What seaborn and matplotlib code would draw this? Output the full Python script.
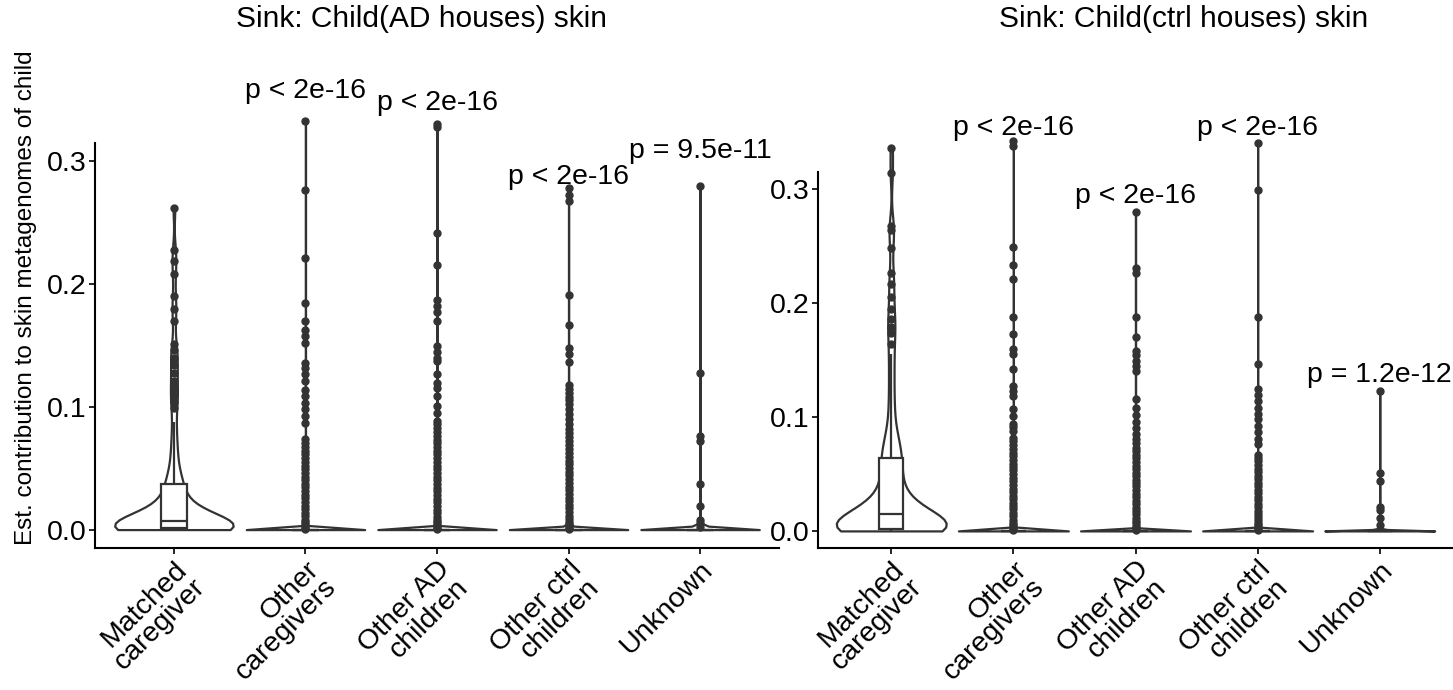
import numpy as np
import pandas as pd
import seaborn as sns
import matplotlib.pyplot as plt

sns.set_style("ticks")
plt.rcParams['font.family'] = ['Liberation Sans', 'DejaVu Sans']
plt.rcParams['text.color'] = 'black'

# --------- data ---------
categories = ["Matched\ncaregiver", "Other\ncaregivers", "Other AD\nchildren",
              "Other ctrl\nchildren", "Unknown"]

# Sink: child in AD houses
ad_matched_vals = [0.0, 0.001, 0.002, 0.003, 0.004, 0.005, 0.006, 0.007, 0.008,
                   0.010, 0.012, 0.014, 0.016, 0.018, 0.020, 0.023, 0.026, 0.029, 0.032, 0.037, 0.039,
                   0.042, 0.046, 0.050, 0.055, 0.060, 0.066, 0.072, 0.080, 0.088,
                   0.099, 0.104, 0.110, 0.115, 0.121, 0.128, 0.134, 0.140, 0.146, 0.151,
                   0.170, 0.180, 0.190, 0.208, 0.219, 0.228, 0.262]
ad_matched_counts = [28, 7, 6, 5, 4, 4, 3, 3, 3,
                     3, 3, 3, 2, 2, 2, 2, 2, 2, 1, 2, 2,
                     1, 1, 1, 1, 1, 1, 1, 1, 1,
                     1, 1, 1, 1, 1, 1, 1, 1, 1, 1,
                     1, 1, 1, 1, 1, 1, 1]
ad_caregivers = [0.333, 0.277, 0.221, 0.1845, 0.170, 0.163, 0.158, 0.152, 0.136, 0.132,
                 0.1265, 0.121, 0.114, 0.109, 0.103, 0.098, 0.0925, 0.0865, 0.0735, 0.0705,
                 0.0672, 0.0641, 0.0612, 0.0580, 0.0553, 0.0521, 0.0494, 0.0462, 0.0431, 0.0405,
                 0.0372, 0.0343, 0.0314, 0.0282, 0.0255, 0.0224, 0.0193, 0.0166, 0.0135, 0.0108,
                 0.0082, 0.0061, 0.0043, 0.0027, 0.0015, 0.0008]
ad_adkids = [0.3306, 0.328, 0.242, 0.2157, 0.187, 0.182, 0.177, 0.170, 0.1496, 0.145,
             0.140, 0.137, 0.1265, 0.1197, 0.1156, 0.109, 0.1007, 0.095, 0.0884, 0.0857,
             0.0826, 0.0793, 0.0762, 0.0731, 0.0702, 0.0671, 0.0640, 0.0612, 0.0580, 0.0551,
             0.0522, 0.0490, 0.0461, 0.0432, 0.0401, 0.0373, 0.0342, 0.0311, 0.0283, 0.0252,
             0.0221, 0.0193, 0.0162, 0.0134, 0.0105, 0.0081, 0.0060, 0.0042, 0.0026, 0.0013, 0.0006]
ad_ctrlkids = [0.278, 0.273, 0.268, 0.191, 0.1668, 0.148, 0.143, 0.1366, 0.118, 0.1143,
               0.1112, 0.1081, 0.1052, 0.1021, 0.0984, 0.0942, 0.0903, 0.0861, 0.0822, 0.0783,
               0.0751, 0.0718, 0.0687, 0.0655, 0.0623, 0.0594, 0.0562, 0.0531, 0.0503, 0.0472,
               0.0441, 0.0412, 0.0380, 0.0351, 0.0322, 0.0290, 0.0261, 0.0232, 0.0201, 0.0172,
               0.0143, 0.0112, 0.0086, 0.0063, 0.0044, 0.0028, 0.0014, 0.0006]
ad_unknown = [0.280, 0.128, 0.076, 0.072, 0.037, 0.019, 0.008, 0.005, 0.002]
ad_zero_counts = [500, 600, 500, 150]   # samples at 0 for the four "other" sources
ad_pvals = ["p < 2e-16", "p < 2e-16", "p < 2e-16", "p = 9.5e-11"]
ad_p_y = [0.352, 0.342, 0.282, 0.303]

# Sink: child in ctrl houses
ctrl_matched_vals = [0.0, 0.002, 0.004, 0.006, 0.008, 0.010, 0.012, 0.014, 0.016,
                     0.019, 0.022, 0.026, 0.030,
                     0.035, 0.040, 0.045, 0.050, 0.055, 0.060, 0.065, 0.070, 0.076, 0.083,
                     0.090, 0.098, 0.106, 0.115, 0.125, 0.135, 0.145, 0.155, 0.164,
                     0.174, 0.179, 0.186, 0.195, 0.205, 0.217,
                     0.226, 0.248, 0.264, 0.268, 0.314, 0.336]
ctrl_matched_counts = [28, 5, 4, 4, 4, 4, 4, 4, 4,
                       3, 3, 3, 3,
                       2, 2, 2, 2, 2, 2, 2, 2, 2, 2,
                       1, 1, 1, 1, 1, 1, 1, 1, 1,
                       1, 1, 1, 1, 1, 1,
                       1, 1, 1, 1, 1, 1]
ctrl_caregivers = [0.342, 0.338, 0.249, 0.233, 0.2215, 0.1876, 0.173, 0.1597, 0.1553, 0.142,
                   0.1273, 0.123, 0.1186, 0.1068, 0.1009, 0.094, 0.091, 0.088, 0.0817, 0.0785,
                   0.0752, 0.0720, 0.0688, 0.0655, 0.0621, 0.0590, 0.0562, 0.0531, 0.0498, 0.0467,
                   0.0435, 0.0402, 0.0371, 0.0343, 0.0310, 0.0281, 0.0248, 0.0217, 0.0188, 0.0156,
                   0.0127, 0.0098, 0.0072, 0.0051, 0.0033, 0.0019, 0.0008]
ctrl_adkids = [0.2803, 0.2304, 0.226, 0.1876, 0.170, 0.158, 0.154, 0.149, 0.145, 0.140,
               0.1156, 0.108, 0.102, 0.096, 0.090, 0.085, 0.081, 0.077, 0.073, 0.0700,
               0.0668, 0.0637, 0.0605, 0.0574, 0.0542, 0.0511, 0.0482, 0.0450, 0.0421, 0.0390,
               0.0358, 0.0327, 0.0296, 0.0265, 0.0236, 0.0204, 0.0175, 0.0146, 0.0117, 0.0091,
               0.0067, 0.0046, 0.0029, 0.0015, 0.0006]
ctrl_ctrlkids = [0.3407, 0.2995, 0.1876, 0.1465, 0.1247, 0.1195, 0.1143, 0.108, 0.103, 0.098,
                 0.092, 0.087, 0.081, 0.076, 0.0670, 0.0641, 0.0610, 0.0578, 0.0547, 0.0515,
                 0.0486, 0.0453, 0.0424, 0.0392, 0.0361, 0.0332, 0.0300, 0.0271, 0.0240, 0.0208,
                 0.0179, 0.0150, 0.0121, 0.0094, 0.0070, 0.0049, 0.0031, 0.0016, 0.0007]
ctrl_unknown = [0.123, 0.0509, 0.0441, 0.0214, 0.0185, 0.0117, 0.0053]
ctrl_zero_counts = [600, 700, 600, 150]
ctrl_pvals = ["p < 2e-16", "p < 2e-16", "p < 2e-16", "p = 1.2e-12"]
ctrl_p_y = [0.3475, 0.288, 0.3475, 0.131]

DARK = "#333333"
FS = 20.5


def build_df(matched_vals, matched_counts, others, zero_counts):
    frames = [pd.DataFrame({"source": categories[0],
                            "value": np.repeat(matched_vals, matched_counts)})]
    for cat, vals, nz in zip(categories[1:], others, zero_counts):
        v = np.concatenate([np.array(vals), np.zeros(nz)])
        frames.append(pd.DataFrame({"source": cat, "value": v}))
    return pd.concat(frames, ignore_index=True)


def draw_panel(ax, df, bw_matched, bw_other, pvals, p_y):
    for i, cat in enumerate(categories):
        sub = df[df["source"] == cat]
        sns.violinplot(data=sub, x="source", y="value", order=categories,
                       color="white", linecolor=DARK, linewidth=1.6, inner=None,
                       cut=0, density_norm="width", width=0.9,
                       bw_adjust=bw_matched if i == 0 else bw_other, ax=ax)
    sns.boxplot(data=df, x="source", y="value", order=categories, width=0.2,
                color="white", linecolor=DARK, linewidth=1.6, showcaps=False,
                flierprops=dict(marker="o", markersize=5, markerfacecolor=DARK,
                                markeredgecolor=DARK), ax=ax)
    for art in ax.collections + ax.lines + ax.patches:
        art.set_clip_on(False)
    for i, (lab, y) in enumerate(zip(pvals, p_y)):
        ax.text(i + 1, y, lab, ha="center", va="baseline", fontsize=FS, clip_on=False)
    ax.set_xlim(-0.6, 4.6)
    ax.set_ylim(-0.015, 0.315)
    ax.set_yticks([0, 0.1, 0.2, 0.3])
    ax.set_yticklabels(["0.0", "0.1", "0.2", "0.3"])
    ax.set_xlabel("")
    ax.set_ylabel("")
    sns.despine(ax=ax)
    for s in ["left", "bottom"]:
        ax.spines[s].set_linewidth(1.5)
        ax.spines[s].set_color("black")
    ax.tick_params(axis="both", length=4, width=1.2, color="black",
                   labelsize=FS, labelcolor="black", pad=2)
    plt.setp(ax.get_xticklabels(), rotation=45, ha="right", va="top",
             rotation_mode="anchor", multialignment="right", linespacing=0.95)


ad_df = build_df(ad_matched_vals, ad_matched_counts,
                 [ad_caregivers, ad_adkids, ad_ctrlkids, ad_unknown], ad_zero_counts)
ctrl_df = build_df(ctrl_matched_vals, ctrl_matched_counts,
                   [ctrl_caregivers, ctrl_adkids, ctrl_ctrlkids, ctrl_unknown], ctrl_zero_counts)

W, H = 1453, 690
fig = plt.figure(figsize=(W / 100, H / 100), dpi=100)
ax1 = fig.add_axes([95 / W, 1 - 548 / H, (779 - 95) / W, (548 - 143) / H])
ax2 = fig.add_axes([818 / W, 1 - 548 / H, (1453 - 818) / W, (548 - 172) / H])

draw_panel(ax1, ad_df, 0.42, 0.15, ad_pvals, ad_p_y)
draw_panel(ax2, ctrl_df, 0.4, 0.15, ctrl_pvals, ctrl_p_y)

fig.text(422 / W, 1 - 27 / H, "Sink: Child(AD houses) skin", ha="center", va="baseline", fontsize=21.5)
fig.text(1184 / W, 1 - 27 / H, "Sink: Child(ctrl houses) skin", ha="center", va="baseline", fontsize=21.5)
fig.text(26 / W, 1 - 298 / H, "Est. contribution to skin metagenomes of child",
         rotation=90, ha="center", va="center", fontsize=17.5)

fig.savefig("out.png", dpi=100)
